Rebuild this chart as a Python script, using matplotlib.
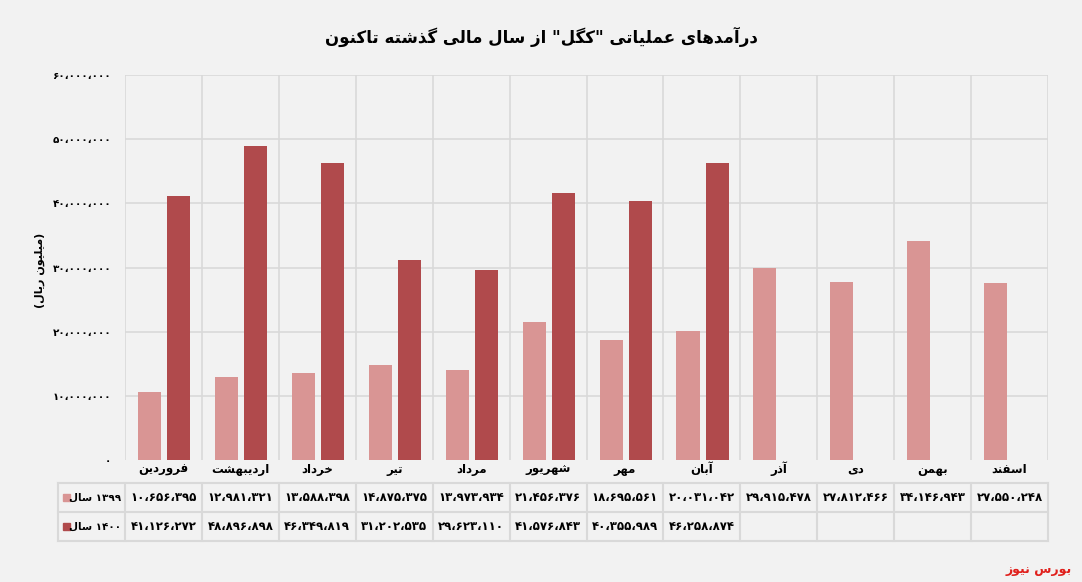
import matplotlib
matplotlib.use("Agg")
import matplotlib.pyplot as plt
from matplotlib.lines import Line2D
from matplotlib.patches import Rectangle

months = ["فروردین", "اردیبهشت", "خرداد", "تیر", "مرداد", "شهریور", "مهر", "آبان", "آذر", "دی", "بهمن", "اسفند"]
v1399 = [10656395, 12981321, 13588398, 14875375, 13973934, 21456376, 18695561, 20031042, 29915478, 27812466, 34146943, 27550248]
v1400 = [41126272, 48896898, 46349819, 31202535, 29623110, 41576843, 40355989, 46258874]
series_names = ["سال ۱۳۹۹", "سال ۱۴۰۰"]
title = 'درآمدهای عملیاتی "کگل" از سال مالی گذشته تاکنون'
ylabel = "(میلیون ریال)"
footer = "بورس نیوز"
yticks = [0, 10000000, 20000000, 30000000, 40000000, 50000000, 60000000]

# --- minimal Persian shaping for display ---
F = {
 'ا': (0xFE8D, 0xFE8E, None, None), 'آ': (0xFE81, 0xFE82, None, None),
 'ب': (0xFE8F, 0xFE90, 0xFE91, 0xFE92), 'پ': (0xFB56, 0xFB57, 0xFB58, 0xFB59),
 'ت': (0xFE95, 0xFE96, 0xFE97, 0xFE98), 'ث': (0xFE99, 0xFE9A, 0xFE9B, 0xFE9C),
 'ج': (0xFE9D, 0xFE9E, 0xFE9F, 0xFEA0), 'چ': (0xFB7A, 0xFB7B, 0xFB7C, 0xFB7D),
 'ح': (0xFEA1, 0xFEA2, 0xFEA3, 0xFEA4), 'خ': (0xFEA5, 0xFEA6, 0xFEA7, 0xFEA8),
 'د': (0xFEA9, 0xFEAA, None, None), 'ذ': (0xFEAB, 0xFEAC, None, None),
 'ر': (0xFEAD, 0xFEAE, None, None), 'ز': (0xFEAF, 0xFEB0, None, None),
 'ژ': (0xFB8A, 0xFB8B, None, None),
 'س': (0xFEB1, 0xFEB2, 0xFEB3, 0xFEB4), 'ش': (0xFEB5, 0xFEB6, 0xFEB7, 0xFEB8),
 'ص': (0xFEB9, 0xFEBA, 0xFEBB, 0xFEBC), 'ض': (0xFEBD, 0xFEBE, 0xFEBF, 0xFEC0),
 'ط': (0xFEC1, 0xFEC2, 0xFEC3, 0xFEC4), 'ظ': (0xFEC5, 0xFEC6, 0xFEC7, 0xFEC8),
 'ع': (0xFEC9, 0xFECA, 0xFECB, 0xFECC), 'غ': (0xFECD, 0xFECE, 0xFECF, 0xFED0),
 'ف': (0xFED1, 0xFED2, 0xFED3, 0xFED4), 'ق': (0xFED5, 0xFED6, 0xFED7, 0xFED8),
 'ک': (0xFB8E, 0xFB8F, 0xFB90, 0xFB91), 'گ': (0xFB92, 0xFB93, 0xFB94, 0xFB95),
 'ل': (0xFEDD, 0xFEDE, 0xFEDF, 0xFEE0), 'م': (0xFEE1, 0xFEE2, 0xFEE3, 0xFEE4),
 'ن': (0xFEE5, 0xFEE6, 0xFEE7, 0xFEE8), 'ه': (0xFEE9, 0xFEEA, 0xFEEB, 0xFEEC),
 'و': (0xFEED, 0xFEEE, None, None), 'ی': (0xFBFC, 0xFBFD, 0xFBFE, 0xFBFF),
}
MIRROR = str.maketrans('()', ')(')

def shape(s):
    out = []
    for i, ch in enumerate(s):
        if ch not in F:
            out.append(ch); continue
        iso, fin, ini, med = F[ch]
        prev = s[i-1] if i > 0 else ''
        nxt = s[i+1] if i + 1 < len(s) else ''
        jp = prev in F and F[prev][2] is not None
        jn = nxt in F and ini is not None
        if jp and jn: c = med
        elif jp: c = fin
        elif jn: c = ini
        else: c = iso
        out.append(chr(c))
    runs, cur, isd = [], '', None
    for ch in out:
        d = ch.isdigit() or ch == '،'
        if isd is None or d == isd:
            cur += ch
        else:
            runs.append((isd, cur)); cur = ch
        isd = d
    if cur: runs.append((isd, cur))
    res = ''
    for d, r in reversed(runs):
        res += r if d else r[::-1].translate(MIRROR)
    return res

def fa_num(n):
    s = f"{n:,}".replace(',', '،')
    return s.translate(str.maketrans('0123456789', '۰۱۲۳۴۵۶۷۸۹'))

plt.rcParams['font.family'] = ['DejaVu Sans']
W, H = 1082, 582
fig = plt.figure(figsize=(W/100, H/100), dpi=100)
fig.patch.set_facecolor('#f2f2f2')

L, R, B, T = 125/W, 1048/W, 1-460/H, 1-75/H
ax = fig.add_axes([L, B, R-L, T-B])
ax.set_facecolor('#f2f2f2')
n = len(months)
c1, c2 = '#d99594', '#b04a4c'
w = 0.3
ax.bar([i - 0.18 for i in range(n)], v1399, width=w, color=c1, zorder=3)
ax.bar([i + 0.2 for i in range(len(v1400))], v1400, width=w, color=c2, zorder=3)
ax.set_xlim(-0.5, n - 0.5)
ax.set_ylim(0, 60000000)
ax.set_yticks(yticks)
ax.set_yticklabels([fa_num(v) for v in yticks], fontsize=7.5, fontweight='bold')
ax.set_xticks([])
for i in range(n + 1):
    ax.axvline(i - 0.5, color='#d9d9d9', lw=1.2, zorder=1)
for v in yticks[1:]:
    ax.axhline(v, color='#d9d9d9', lw=1.2, zorder=1)
for s in ax.spines.values():
    s.set_visible(False)
ax.tick_params(axis='y', length=0, pad=10)

colw = (R - L) / n
def fy(py): return 1 - py / H
for i, m in enumerate(months):
    fig.text(L + (i + 0.5) * colw, fy(469), shape(m), ha='center', va='center', fontsize=8.5, fontweight='bold')
rows = [fy(483), fy(512), fy(541)]
lines = []
for y in rows:
    lines.append(Line2D([58/W, R], [y, y]))
for i in range(n + 1):
    lines.append(Line2D([L + i*colw]*2, [rows[0], rows[2]]))
lines.append(Line2D([58/W]*2, [rows[0], rows[2]]))
for l in lines:
    l.set_color('#d9d9d9'); l.set_linewidth(1.5)
    fig.add_artist(l)
for r, (vals, col, name) in enumerate([(v1399, c1, series_names[0]), (v1400, c2, series_names[1])]):
    yc = (rows[r] + rows[r+1]) / 2
    fig.add_artist(Rectangle((63/W, yc - 3/H), 7/W, 7/H, color=col))
    nm, yr = name.split(' ')
    fig.text(121/W, yc, shape(nm) + ' ' + fa_num(int(yr)).replace('،', ''), ha='right', va='center', fontsize=7.5, fontweight='bold')
    for i, v in enumerate(vals):
        fig.text(L + (i + 0.5) * colw, yc, fa_num(v), ha='center', va='center', fontsize=8.5, fontweight='bold')

fig.text(0.5, fy(37), shape(title), ha='center', va='center', fontsize=12, fontweight='bold')
fig.text(40/W, fy(270), shape(ylabel), ha='center', va='center', rotation=90, fontsize=8, fontweight='bold')
fig.text(1072/W, fy(570), shape(footer), ha='right', va='center', fontsize=9, fontweight='bold', color='#e0201c')
fig.savefig('out.png', dpi=100, facecolor=fig.get_facecolor())
